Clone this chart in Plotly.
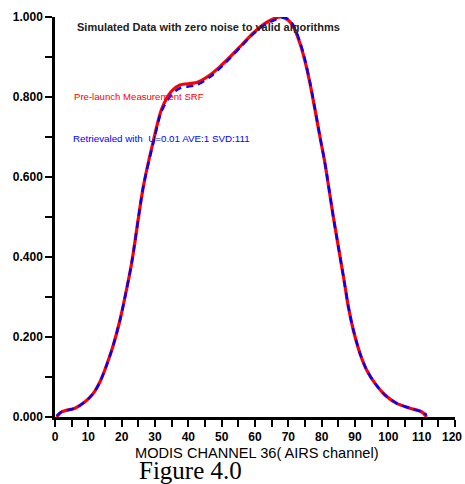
import plotly.graph_objects as go

channel = [0.5, 2, 6, 9, 11.5, 13.5, 15.5, 17.5, 19.5, 21, 23, 26.5, 29.5, 32, 35, 37.5, 42.5,
           46.5, 49.5, 52.5, 56, 59.5, 63, 66, 68, 70, 71.5, 73.5, 75, 76.5, 78, 79.5, 81,
           83.5, 86.7, 88, 89.5, 91.5, 93.5, 96, 99, 102.5, 106.5, 110, 111.5]
prelaunch_srf = [0.0, 0.013, 0.022, 0.038, 0.059, 0.088, 0.13, 0.18, 0.2425, 0.30, 0.385,
                 0.576, 0.69, 0.77, 0.815, 0.83, 0.836, 0.855, 0.876, 0.90, 0.93, 0.96, 0.984,
                 0.997, 1.0, 0.992, 0.976, 0.934, 0.89, 0.834, 0.768, 0.70, 0.634, 0.50,
                 0.3425, 0.276, 0.2175, 0.159, 0.1175, 0.084, 0.055, 0.034, 0.022, 0.013, 0.0]
retrieved_srf = [0.003, 0.013, 0.022, 0.038, 0.059, 0.088, 0.13, 0.18, 0.2425, 0.30, 0.385,
                 0.576, 0.685, 0.765, 0.806, 0.822, 0.83, 0.85, 0.872, 0.897, 0.928, 0.958,
                 0.981, 0.993, 0.998, 0.995, 0.98, 0.938, 0.893, 0.836, 0.77, 0.70, 0.634, 0.50,
                 0.3425, 0.276, 0.2175, 0.159, 0.1175, 0.084, 0.055, 0.034, 0.022, 0.013, 0.005]
x_last_label = "120"

fig = go.Figure()
fig.add_trace(go.Scatter(x=channel, y=prelaunch_srf, mode="lines",
                         line=dict(color="#ff0000", width=3.2, shape="spline", smoothing=0.8),
                         showlegend=False))
fig.add_trace(go.Scatter(x=channel, y=retrieved_srf, mode="lines",
                         line=dict(color="#0000ff", width=2.4, shape="spline", smoothing=0.8,
                                   dash="7px,5px"),
                         showlegend=False))

axis_font = dict(family="Liberation Sans, Arial", size=12, color="black", weight="bold")
fig.update_layout(
    width=465, height=484,
    margin=dict(l=55, r=10, t=17, b=67),
    plot_bgcolor="white", paper_bgcolor="white",
    xaxis=dict(range=[0, 120], tickmode="linear", tick0=0, dtick=10, automargin=False,
               labelalias={x_last_label: " "},
               showgrid=False, zeroline=False, showline=True, linecolor="black", linewidth=2.5,
               ticks="outside", ticklen=7, tickwidth=2, tickcolor="black", tickfont=axis_font,
               minor=dict(dtick=5, tick0=0, ticks="outside", ticklen=7, tickwidth=2,
                          tickcolor="black", showgrid=False)),
    yaxis=dict(range=[0, 1.0], tickmode="linear", tick0=0, dtick=0.2, tickformat=".3f",
               automargin=False,
               showgrid=False, zeroline=False, showline=True, linecolor="black", linewidth=2.5,
               ticks="outside", ticklen=7, tickwidth=2, tickcolor="black", tickfont=axis_font,
               minor=dict(dtick=0.1, tick0=0, ticks="outside", ticklen=7, tickwidth=2,
                          tickcolor="black", showgrid=False)),
    annotations=[
        dict(text=x_last_label, xref="x", yref="paper", x=120, y=0, xanchor="right",
             yanchor="middle", xshift=9, yshift=-20, showarrow=False, font=axis_font),
        dict(text="Simulated Data with zero noise to valid algorithms", xref="paper", yref="paper",
             x=0.05, y=0.975, xanchor="left", yanchor="middle", showarrow=False,
             font=dict(family="Liberation Sans, Arial", size=11, color="#222222", weight="bold")),
        dict(text="Pre-launch Measurement SRF", xref="paper", yref="paper",
             x=0.0425, y=0.8, xanchor="left", yanchor="middle", showarrow=False,
             font=dict(family="Liberation Sans, Arial", size=9.6, color="#ff0000")),
        dict(text="Retrievaled with  U=0.01 AVE:1 SVD:111", xref="paper", yref="paper",
             x=0.04, y=0.6975, xanchor="left", yanchor="middle", showarrow=False,
             font=dict(family="Liberation Sans, Arial", size=9.8, color="#0000ff")),
        dict(text="MODIS CHANNEL 36( AIRS channel)", xref="paper", yref="paper",
             x=0.505, y=-0.09, xanchor="center", yanchor="middle", showarrow=False,
             font=dict(family="Liberation Sans, Arial", size=14.6, color="black")),
        dict(text="Figure 4.0", xref="paper", yref="paper",
             x=0.3375, y=-0.133, xanchor="center", yanchor="middle", showarrow=False,
             font=dict(family="Liberation Serif, Times New Roman", size=25, color="black")),
    ],
)

# remove the browser's default 8px body margin so the 465x484 figure fills the window exactly
fig.write_html("out.html", config={"displayModeBar": False},
               post_script="document.body.style.margin='0';document.body.style.overflow='hidden';")
